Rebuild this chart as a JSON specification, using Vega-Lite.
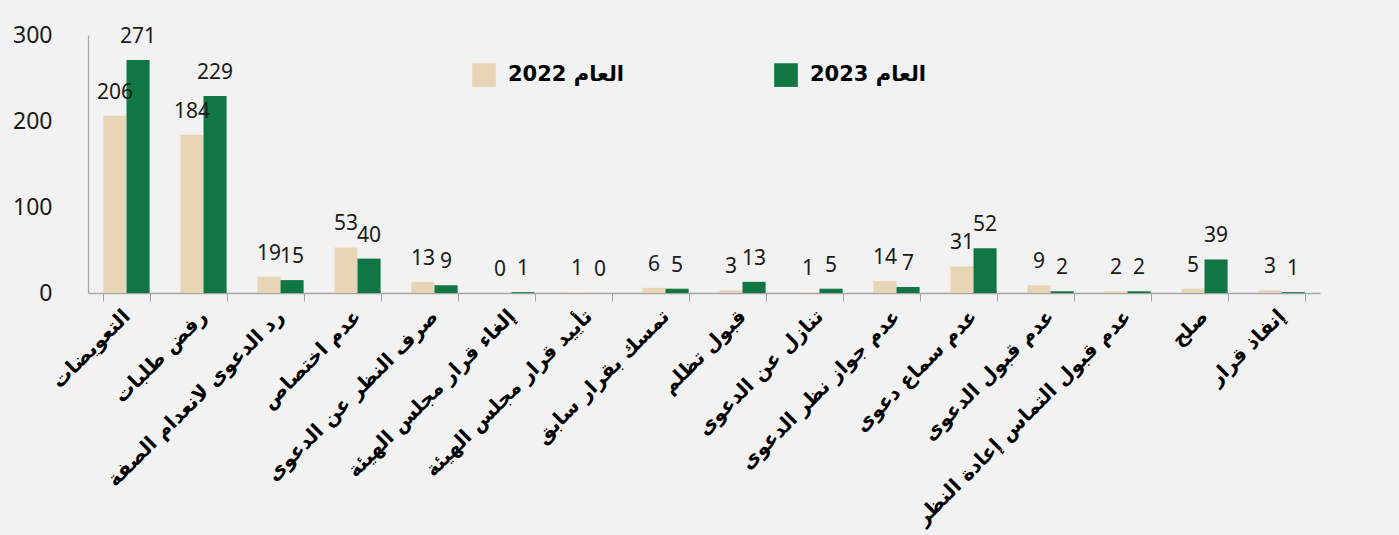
{
  "$schema": "https://vega.github.io/schema/vega-lite/v6.json",
  "width": 1232,
  "height": 258,
  "autosize": {"type": "none"},
  "padding": {"left": 88, "top": 35, "right": 79, "bottom": 242},
  "background": "#f2f2f2",
  "view": {"stroke": null},
  "data": {
    "values": [
      {"cat": "التعويضات", "year": "العام 2022", "value": 206},
      {"cat": "التعويضات", "year": "العام 2023", "value": 271},
      {"cat": "رفض طلبات", "year": "العام 2022", "value": 184},
      {"cat": "رفض طلبات", "year": "العام 2023", "value": 229},
      {"cat": "رد الدعوى لانعدام الصفة", "year": "العام 2022", "value": 19},
      {"cat": "رد الدعوى لانعدام الصفة", "year": "العام 2023", "value": 15},
      {"cat": "عدم اختصاص", "year": "العام 2022", "value": 53},
      {"cat": "عدم اختصاص", "year": "العام 2023", "value": 40},
      {"cat": "صرف النظر عن الدعوى", "year": "العام 2022", "value": 13},
      {"cat": "صرف النظر عن الدعوى", "year": "العام 2023", "value": 9},
      {"cat": "إلغاء قرار مجلس الهيئة", "year": "العام 2022", "value": 0},
      {"cat": "إلغاء قرار مجلس الهيئة", "year": "العام 2023", "value": 1},
      {"cat": "تأييد قرار مجلس الهيئة", "year": "العام 2022", "value": 1},
      {"cat": "تأييد قرار مجلس الهيئة", "year": "العام 2023", "value": 0},
      {"cat": "تمسك بقرار سابق", "year": "العام 2022", "value": 6},
      {"cat": "تمسك بقرار سابق", "year": "العام 2023", "value": 5},
      {"cat": "قبول تظلم", "year": "العام 2022", "value": 3},
      {"cat": "قبول تظلم", "year": "العام 2023", "value": 13},
      {"cat": "تنازل عن الدعوى", "year": "العام 2022", "value": 1},
      {"cat": "تنازل عن الدعوى", "year": "العام 2023", "value": 5},
      {"cat": "عدم جواز نظر الدعوى", "year": "العام 2022", "value": 14},
      {"cat": "عدم جواز نظر الدعوى", "year": "العام 2023", "value": 7},
      {"cat": "عدم سماع دعوى", "year": "العام 2022", "value": 31},
      {"cat": "عدم سماع دعوى", "year": "العام 2023", "value": 52},
      {"cat": "عدم قبول الدعوى", "year": "العام 2022", "value": 9},
      {"cat": "عدم قبول الدعوى", "year": "العام 2023", "value": 2},
      {"cat": "عدم قبول التماس إعادة النظر", "year": "العام 2022", "value": 2},
      {"cat": "عدم قبول التماس إعادة النظر", "year": "العام 2023", "value": 2},
      {"cat": "صلح", "year": "العام 2022", "value": 5},
      {"cat": "صلح", "year": "العام 2023", "value": 39},
      {"cat": "إنفاذ قرار", "year": "العام 2022", "value": 3},
      {"cat": "إنفاذ قرار", "year": "العام 2023", "value": 1}
    ]
  },
  "encoding": {
    "x": {
      "field": "cat",
      "type": "nominal",
      "sort": null,
      "title": null,
      "scale": {"paddingInner": 0.4, "paddingOuter": 0.2},
      "axis": {
        "labelAngle": -45,
        "labelAlign": "right",
        "labelBaseline": "middle",
        "labelFont": "DejaVu Sans",
        "labelFontWeight": "bold",
        "labelFontSize": 20,
        "labelColor": "#000000",
        "labelPadding": 12,
        "labelLimit": 400,
        "tickBand": "extent",
        "tickSize": 8,
        "tickColor": "#a6a6a6",
        "domainColor": "#a6a6a6",
        "domainWidth": 1.5,
        "grid": false
      }
    },
    "xOffset": {"field": "year", "type": "nominal", "scale": {"domain": ["العام 2022", "العام 2023"], "paddingInner": 0}},
    "y": {
      "field": "value",
      "type": "quantitative",
      "title": null,
      "scale": {"domain": [0, 300], "nice": false},
      "axis": {
        "values": [0, 100, 200, 300],
        "grid": false,
        "ticks": false,
        "domainColor": "#a6a6a6",
        "domainWidth": 1.2,
        "labelFont": "Noto Sans",
        "labelFontSize": 23,
        "labelColor": "#1a1a1a",
        "labelPadding": 36
      }
    }
  },
  "layer": [
    {
      "mark": {"type": "bar"},
      "encoding": {
        "color": {
          "field": "year",
          "type": "nominal",
          "scale": {"domain": ["العام 2022", "العام 2023"], "range": ["#e8d5b5", "#107744"]},
          "legend": {
            "title": null,
            "orient": "none",
            "direction": "horizontal",
            "legendX": 384,
            "legendY": 28,
            "symbolType": "square",
            "symbolSize": 560,
            "symbolStrokeWidth": 0,
            "labelFont": "DejaVu Sans",
            "labelFontWeight": "bold",
            "labelFontSize": 21,
            "labelColor": "#000000",
            "labelOffset": 12,
            "columnPadding": 150,
            "padding": 0
          }
        }
      }
    },
    {
      "mark": {"type": "text", "baseline": "bottom", "dy": -13, "font": "Noto Sans", "fontSize": 21, "color": "#1a1a1a"},
      "encoding": {"text": {"field": "value", "type": "quantitative"}}
    }
  ]
}
